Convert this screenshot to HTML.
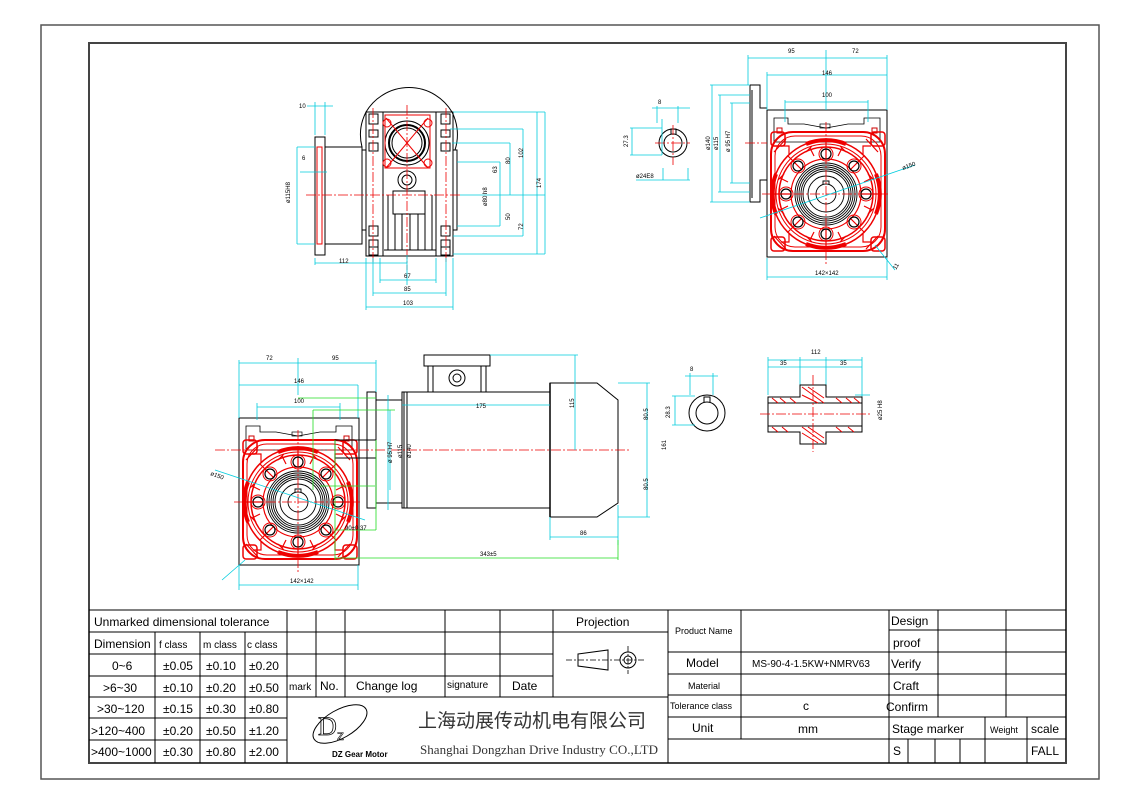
<!DOCTYPE html>
<html><head><meta charset="utf-8"><style>
html,body{margin:0;padding:0;background:#fff;}
svg{display:block;}
text{font-family:"Liberation Sans","Noto Sans CJK SC",sans-serif;}
.t{font-size:12px;fill:#000;}
.s{font-size:8px;fill:#000;}
.d{font-size:6px;fill:#000;}
</style></head><body>
<svg width="1140" height="805" viewBox="0 0 1140 805" xmlns="http://www.w3.org/2000/svg">
<defs>
<g id="face">
  <rect x="-59" y="-84" width="120" height="147" fill="none" stroke="#000" stroke-width="1"/>
  <path d="M-52 -76 H-38 V-70 H-22 L0 -66 L22 -70 H38 V-76 H54 V-52 H-52Z" fill="none" stroke="#000" stroke-width="0.8"/>
  <rect x="-49" y="-66" width="5" height="5" fill="none" stroke="#c00"/>
  <rect x="46" y="-66" width="5" height="5" fill="none" stroke="#c00"/>
  <rect x="-6" y="-70" width="10" height="4" fill="none" stroke="#000" stroke-width="0.7"/>
  <rect x="-55" y="-62" width="114" height="119" rx="22" fill="none" stroke="#e00" stroke-width="2"/>
  <rect x="-51" y="-58" width="106" height="111" rx="20" fill="none" stroke="#e00" stroke-width="1"/>
  <circle r="54" fill="none" stroke="#e00" stroke-width="1.5"/>
  <circle r="50" fill="none" stroke="#e00" stroke-width="1"/>
  <circle r="47" fill="none" stroke="#e00" stroke-width="1.5"/>
  <circle r="35" fill="none" stroke="#e00" stroke-width="1.2"/>
  <g stroke="#e00" stroke-width="4" fill="none">
    <path d="M-20 -50 A54 54 0 0 1 20 -50" /><path d="M50 -20 A54 54 0 0 1 50 20"/>
    <path d="M20 50 A54 54 0 0 1 -20 50"/><path d="M-50 20 A54 54 0 0 1 -50 -20"/>
  </g>
  <g stroke="#e00" stroke-width="1.2" fill="none">
    <path d="M-40 -55 L-52 -42 M40 -55 L52 -42 M-40 55 L-52 42 M40 55 L52 42"/>
    <path d="M-45 -48 l8 0 l0 8 M45 -48 l-8 0 l0 8 M-45 48 l8 0 l0 -8 M45 48 l-8 0 l0 -8"/>
    <path d="M0 -54 V-35 M0 54 V35 M-54 0 H-35 M54 0 H35 M-38 -38 L-25 -25 M38 -38 L25 -25 M-38 38 L-25 25 M38 38 L25 25"/>
    <path d="M-20 -42 l6 -6 M20 -42 l-6 -6 M-42 -20 l-6 6 M42 -20 l6 6 M-42 20 l-6 -6 M42 20 l6 -6 M-20 42 l6 6 M20 42 l-6 6"/>
    <path d="M-12 -38 l-4 -8 M12 -38 l4 -8 M-38 -12 l-8 -4 M38 -12 l8 -4 M-38 12 l-8 4 M38 12 l8 4 M-12 38 l-4 8 M12 38 l4 8"/>
  </g>
  <g fill="none" stroke="#e00" stroke-width="1.5">
    <rect x="-55" y="-62" width="14" height="14" rx="3"/><rect x="45" y="-62" width="14" height="14" rx="3"/>
    <rect x="-55" y="43" width="14" height="14" rx="3"/><rect x="45" y="43" width="14" height="14" rx="3"/>
  </g>
  <g fill="none" stroke="#000" stroke-width="1.2">
    <circle cx="0" cy="-40" r="5"/><circle cx="0" cy="40" r="5"/><circle cx="-40" cy="0" r="5"/><circle cx="40" cy="0" r="5"/>
    <circle cx="-28" cy="-28" r="5"/><circle cx="28" cy="-28" r="5"/><circle cx="-28" cy="28" r="5"/><circle cx="28" cy="28" r="5"/>
  </g>
  <g fill="none" stroke="#e00" stroke-width="1">
    <circle cx="0" cy="-40" r="7"/><circle cx="0" cy="40" r="7"/><circle cx="-40" cy="0" r="7"/><circle cx="40" cy="0" r="7"/>
    <circle cx="-28" cy="-28" r="7"/><circle cx="28" cy="-28" r="7"/><circle cx="-28" cy="28" r="7"/><circle cx="28" cy="28" r="7"/>
  </g>
  <g fill="none" stroke="#000" stroke-width="0.9">
    <circle r="31"/><circle r="29"/><circle r="27"/><circle r="25"/><circle r="23"/><circle r="18"/><circle r="10"/>
    <path d="M-3 -10 V-13 H3 V-10"/>
  </g>
  <path d="M0 -72 V72 M-64 0 H64" stroke="#e00" stroke-width="0.8" stroke-dasharray="10 2 2 2"/>
</g>
</defs>

<!-- frames -->
<rect x="41" y="25" width="1058" height="754" fill="none" stroke="#555" stroke-width="1.5"/>
<rect x="89" y="43" width="977" height="720" fill="none" stroke="#444" stroke-width="2"/>

<!-- ===== top middle side view ===== -->
<g fill="none" stroke="#000" stroke-width="1">
  <path d="M366 112 A50 50 0 0 1 452 112"/>
  <path d="M362 147 A50 50 0 0 1 366 112"/><path d="M452 112 A50 50 0 0 1 455 150"/>
  <rect x="315" y="137" width="10" height="118"/>
  <rect x="325" y="147" width="37" height="97"/>
  <rect x="362" y="150" width="4" height="80"/>
  <rect x="366" y="112" width="87" height="144"/>
  <rect x="366" y="112" width="17" height="144"/><rect x="436" y="112" width="17" height="144"/>
  <rect x="453" y="150" width="4" height="80"/>
  <circle cx="407" cy="143" r="22"/><circle cx="407" cy="143" r="18" stroke-width="2"/><circle cx="407" cy="143" r="15"/>
  <circle cx="407" cy="180" r="9"/><circle cx="407" cy="180" r="5"/>
  <rect x="393" y="191" width="32" height="23"/>
  <path d="M388 195 V250 M395 214 V250 M402 214 V250 M410 214 V250 M418 214 V250 M425 214 V250 M432 195 V250 M384 250 H436"/>
  <rect x="369" y="114" width="9" height="10"/><rect x="369" y="130" width="9" height="7"/><rect x="369" y="143" width="9" height="8"/>
  <rect x="441" y="114" width="9" height="10"/><rect x="441" y="130" width="9" height="7"/><rect x="441" y="143" width="9" height="8"/>
  <rect x="369" y="226" width="9" height="10"/><rect x="369" y="240" width="9" height="7"/><rect x="369" y="247" width="9" height="8"/>
  <rect x="441" y="226" width="9" height="10"/><rect x="441" y="240" width="9" height="7"/><rect x="441" y="247" width="9" height="8"/>
</g>
<g stroke="#e00" stroke-width="1" fill="none">
  <rect x="317" y="147" width="5" height="97"/>
  <path d="M386 118 l42 50 M428 118 l-42 50"/>
  <circle cx="387" cy="123" r="4"/><circle cx="428" cy="123" r="4"/><circle cx="387" cy="163" r="4"/><circle cx="428" cy="163" r="4"/>
  <path d="M385 115 H430 V168 H385Z"/>
  <path d="M407 105 V270 M306 195 H460 M373 108 V262 M446 108 V262" stroke-dasharray="10 2 2 2" stroke-width="0.8"/>
</g>
<g stroke="#0cd" stroke-width="0.8" fill="none">
  <path d="M315 102 V135 M325 102 V135 M307 106 H333 M300 172 H327 M297 147 V244 M297 147 H315 M297 244 H315"/>
  <path d="M315 258 V265 M315 263 H407 M407 255 V285 M380 258 V283 M436 258 V283 M380 280 H436 M373 258 V296 M446 258 V296 M373 293 H446 M366 258 V310 M453 258 V310 M366 307 H453"/>
  <path d="M453 112 H545 M450 129 H523 M452 143 H510 M457 162 H500 M460 195 H545 M457 226 H500 M453 236 H523 M453 254 H545"/>
  <path d="M500 162 V226 M510 143 V195 M523 129 V236 M537 112 V254 M545 112 V254"/>
</g>
<g class="d">
  <text x="299" y="108">10</text><text x="302" y="160">6</text>
  <text x="290" y="203" transform="rotate(-90 290 203)">ø115H8</text>
  <text x="339" y="263">112</text><text x="404" y="278">67</text><text x="404" y="291">85</text><text x="403" y="305">103</text>
  <text x="497" y="173" transform="rotate(-90 497 173)">63</text>
  <text x="510" y="164" transform="rotate(-90 510 164)">80</text>
  <text x="523" y="158" transform="rotate(-90 523 158)">102</text>
  <text x="541" y="188" transform="rotate(-90 541 188)">174</text>
  <text x="487" y="206" transform="rotate(-90 487 206)">ø80 h8</text>
  <text x="510" y="220" transform="rotate(-90 510 220)">50</text>
  <text x="523" y="230" transform="rotate(-90 523 230)">72</text>
</g>

<!-- ===== top right view ===== -->
<g fill="none" stroke="#000" stroke-width="1">
  <circle cx="673" cy="143" r="14"/><circle cx="673" cy="143" r="9"/>
  <path d="M671 134 V129 H676 V134"/>
  <path d="M750 85 H760 V108 H767 M750 85 V202 H760 V180 H767 M752 90 V198"/>
</g>
<use href="#face" x="826" y="194"/>
<g stroke="#e00" stroke-width="0.8" fill="none" stroke-dasharray="10 2 2 2">
  <path d="M673 125 V165 M655 143 H690 M745 143 H767"/>
</g>
<g stroke="#0cd" stroke-width="0.8" fill="none">
  <path d="M748 55 V85 M826 50 V110 M887 55 V110 M748 58 H887 M767 72 V110 M767 75 H887 M785 100 V122 M868 100 V122 M785 102 H868"/>
  <path d="M710 85 H750 M718 95 H750 M730 103 H750 M712 85 V202 M720 95 V192 M732 103 V183 M710 202 H750 M718 192 H750 M730 183 H750"/>
  <path d="M662 119 V155 M630 128 H662 M630 155 H662 M632 128 V155 M657 106 V123 M678 106 V123 M652 108 H690 M663 168 V180 M688 168 V180 M636 180 H690"/>
  <path d="M760 218 L915 165 M767 258 V280 M887 258 V280 M767 277 H887 M875 245 L895 270"/>
</g>
<g class="d">
  <text x="788" y="53">95</text><text x="852" y="53">72</text><text x="822" y="75">146</text><text x="822" y="97">100</text>
  <text x="658" y="104">8</text><text x="628" y="147" transform="rotate(-90 628 147)">27.3</text><text x="636" y="178">ø24E8</text>
  <text x="710" y="150" transform="rotate(-90 710 150)">ø140</text><text x="718" y="150" transform="rotate(-90 718 150)">ø115</text><text x="730" y="152" transform="rotate(-90 730 152)">ø 95 H7</text>
  <text x="903" y="170" transform="rotate(-20 903 170)">ø150</text><text x="815" y="275">142×142</text>
  <text x="896" y="270" transform="rotate(-60 896 270)">11</text>
</g>

<!-- ===== bottom left assembly ===== -->
<use href="#face" x="298" y="502"/>
<g fill="none" stroke="#000" stroke-width="1">
  <rect x="367" y="392" width="9" height="116"/>
  <rect x="376" y="400" width="26" height="103"/>
  <rect x="402" y="392" width="148" height="116"/>
  <path d="M550 383 H597 L618 400 V503 L597 517 H550Z"/>
  <path d="M550 383 V517" stroke-width="1.5"/>
  <path d="M424 355 H490 V366 H424Z"/>
  <path d="M428 366 V392 M486 366 V392 M433 366 V392 M481 366 V392"/>
  <circle cx="457" cy="378" r="8"/><circle cx="457" cy="378" r="4"/>
  <path d="M335 440 H376 V458 H335Z"/>
  <path d="M404 392 V508 M407 392 V508"/>
</g>
<path d="M215 450 H630" stroke="#e00" stroke-width="0.8" fill="none" stroke-dasharray="10 2 2 2"/>
<g stroke="#0cd" stroke-width="0.8" fill="none">
  <path d="M239 360 V418 M298 358 V395 M376 360 V392 M239 363 H376 M239 385 V418 M358 385 V418 M239 385 H358 M257 403 V420 M340 403 V420 M257 407 H340"/>
  <path d="M490 355 H578 M575 355 V450 M618 383 H650 M618 517 H650 M647 383 V517 M550 517 V540 M618 505 V545 M550 537 H618"/>
  <path d="M402 405 H550 M390 410 V490 M388 395 V510"/>
  <path d="M239 565 V590 M358 565 V590 M239 585 H358 M215 470 L365 520 M222 580 L245 560"/>
</g>
<g stroke="#2d2" stroke-width="0.8" fill="none">
  <path d="M298 398 H376 M313 410 H395 M313 410 V490 M335 440 V560 M320 486 H375 M335 530 H376 M335 558 H618 M618 540 V560 M376 440 V530"/>
</g>
<g class="d">
  <text x="266" y="360">72</text><text x="332" y="360">95</text><text x="294" y="383">146</text><text x="294" y="403">100</text>
  <text x="476" y="408">175</text>
  <text x="574" y="408" transform="rotate(-90 574 408)">115</text>
  <text x="648" y="420" transform="rotate(-90 648 420)">80.5</text>
  <text x="666" y="450" transform="rotate(-90 666 450)">161</text>
  <text x="648" y="490" transform="rotate(-90 648 490)">80.5</text>
  <text x="580" y="535">86</text><text x="480" y="556">343±5</text>
  <text x="290" y="583">142×142</text>
  <text x="210" y="475" transform="rotate(20 210 475)">ø150</text>
  <text x="392" y="463" transform="rotate(-90 392 463)">ø 95 H7</text>
  <text x="402" y="458" transform="rotate(-90 402 458)">ø115</text>
  <text x="411" y="458" transform="rotate(-90 411 458)">ø140</text>
  <text x="345" y="530">90±0.37</text>
</g>

<!-- shaft small views -->
<g fill="none" stroke="#000" stroke-width="1">
  <circle cx="707" cy="413" r="18"/><circle cx="707" cy="413" r="11"/>
  <path d="M704 402 V397 H710 V402"/>
</g>
<g stroke="#0cd" stroke-width="0.8" fill="none">
  <path d="M690 373 V395 M713 373 V395 M685 376 H718 M672 396 H695 M672 425 H695 M675 396 V425"/>
  <path d="M768 357 V395 M800 357 V385 M826 357 V385 M862 357 V395 M768 360 H862 M768 367 H862 M862 395 V432 M855 395 H870"/>
</g>
<g class="d"><text x="690" y="371">8</text><text x="670" y="418" transform="rotate(-90 670 418)">28.3</text>
<text x="811" y="354">112</text><text x="780" y="365">35</text><text x="840" y="365">35</text>
<text x="882" y="420" transform="rotate(-90 882 420)">ø25 H8</text></g>
<g fill="none" stroke="#000" stroke-width="1">
  <path d="M768 397 H800 V385 H826 V397 H862 V432 H826 V444 H800 V432 H768Z"/>
  <path d="M768 403 H862 M768 426 H862"/>
</g>
<g stroke="#e00" stroke-width="1" fill="none">
  <path d="M772 398 l6 5 M780 398 l6 5 M790 398 l6 5 M836 398 l6 5 M846 398 l6 5 M854 398 l6 5 M772 427 l6 5 M782 427 l6 5 M836 427 l6 5 M848 427 l6 5"/>
  <path d="M802 387 L824 403 M802 395 L818 403 M808 387 L824 398 M802 427 L824 443 M808 427 L824 438 M802 433 L818 443"/>
  <path d="M760 414 H872 M813 375 V452" stroke-dasharray="10 2 2 2" stroke-width="0.8"/>
</g>

<!-- ===== title block ===== -->
<g stroke="#000" stroke-width="1" fill="none">
  <path d="M89 610 H1066"/>
  <path d="M89 632 H553 M89 654 H553 M89 676 H553 M89 697 H553 M89 718 H287 M89 740 H287"/>
  <path d="M553 632 H668 M553 697 H668"/>
  <path d="M155 632 V763 M200 632 V763 M245 632 V763 M287 610 V763"/>
  <path d="M316 610 V697 M345 610 V697 M445 610 V697 M500 610 V697 M553 610 V697 M668 610 V763"/>
  <path d="M668 652 H889 M668 674 H889 M668 695 H889 M668 717 H889 M668 739 H889"/>
  <path d="M741 610 V739 M889 610 V763"/>
  <path d="M889 630 H1066 M889 652 H1066 M889 674 H1066 M889 695 H1066 M889 717 H1066 M889 739 H1066"/>
  <path d="M938 610 V717 M1006 610 V717 M985 717 V763 M1027 717 V763 M908 739 V763 M935 739 V763 M960 739 V763"/>
</g>
<g class="t">
  <text x="94" y="626">Unmarked dimensional tolerance</text>
  <text x="94" y="648">Dimension</text>
  <text x="159" y="648" style="font-size:10px">f class</text><text x="203" y="648" style="font-size:10px">m class</text><text x="247" y="648" style="font-size:10px">c class</text>
  <text x="112" y="670">0~6</text><text x="163" y="670">±0.05</text><text x="206" y="670">±0.10</text><text x="249" y="670">±0.20</text>
  <text x="103" y="692">&gt;6~30</text><text x="163" y="692">±0.10</text><text x="206" y="692">±0.20</text><text x="249" y="692">±0.50</text>
  <text x="97" y="713">&gt;30~120</text><text x="163" y="713">±0.15</text><text x="206" y="713">±0.30</text><text x="249" y="713">±0.80</text>
  <text x="91" y="735">&gt;120~400</text><text x="163" y="735">±0.20</text><text x="206" y="735">±0.50</text><text x="249" y="735">±1.20</text>
  <text x="91" y="756">&gt;400~1000</text><text x="163" y="756">±0.30</text><text x="206" y="756">±0.80</text><text x="249" y="756">±2.00</text>
  <text x="289" y="690" style="font-size:10px">mark</text><text x="320" y="690">No.</text>
  <text x="356" y="690">Change log</text><text x="447" y="688" style="font-size:10px">signature</text><text x="512" y="690">Date</text>
  <text x="576" y="626">Projection</text>
  <text x="675" y="634" style="font-size:9px">Product Name</text>
  <text x="686" y="667">Model</text><text x="752" y="667" style="font-size:10px">MS-90-4-1.5KW+NMRV63</text>
  <text x="688" y="689" style="font-size:9px">Material</text>
  <text x="670" y="709" style="font-size:9px">Tolerance class</text><text x="803" y="710">c</text>
  <text x="692" y="732">Unit</text><text x="798" y="733">mm</text>
  <text x="891" y="625">Design</text><text x="893" y="647">proof</text><text x="891" y="668">Verify</text>
  <text x="893" y="690">Craft</text><text x="886" y="711">Confirm</text>
  <text x="892" y="733">Stage marker</text><text x="990" y="733" style="font-size:9px">Weight</text><text x="1031" y="733">scale</text>
  <text x="893" y="755">S</text><text x="1031" y="755">FALL</text>
</g>
<!-- projection symbol -->
<g stroke="#000" fill="none" stroke-width="1">
  <path d="M578 654 L608 650 V670 L578 666Z"/>
  <circle cx="628" cy="660" r="8"/><circle cx="628" cy="660" r="4"/>
  <path d="M566 660 H646 M628 646 V674" stroke-dasharray="6 2 2 2" stroke-width="0.8"/>
</g>
<!-- logo -->
<g>
  <ellipse cx="340" cy="724" rx="30" ry="14" transform="rotate(-30 340 724)" fill="none" stroke="#000" stroke-width="1"/>
  <text x="318" y="735" style="font-size:26px;font-family:'Liberation Serif',serif" fill="none" stroke="#000" stroke-width="0.8">D</text>
  <text x="337" y="740" style="font-size:14px" fill="none" stroke="#000" stroke-width="0.6">z</text>
  <text x="332" y="757" style="font-size:8px;font-weight:bold" fill="#000">DZ Gear Motor</text>
  <text x="418" y="727" style="font-size:19px;font-family:'Liberation Sans','Noto Sans CJK SC',sans-serif" fill="#333">上海动展传动机电有限公司</text>
  <text x="420" y="754" style="font-size:13px;font-family:'Liberation Serif',serif" fill="#333" textLength="238">Shanghai Dongzhan Drive Industry CO.,LTD</text>
</g>
</svg>
</body></html>
